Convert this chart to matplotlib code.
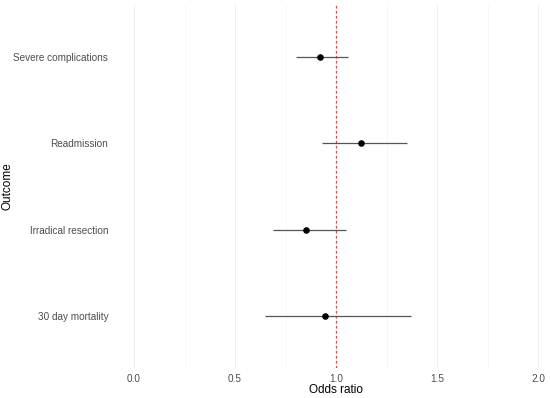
import matplotlib
matplotlib.use("Agg")
import matplotlib.pyplot as plt
from matplotlib.ticker import MultipleLocator

outcomes = ["30 day mortality", "Irradical resection", "Readmission", "Severe complications"]
odds_ratio = [0.944, 0.853, 1.124, 0.92]
ci_low = [0.65, 0.69, 0.93, 0.80]
ci_high = [1.37, 1.05, 1.35, 1.06]
x_ticks = [0.0, 0.5, 1.0, 1.5, 2.0]
x_tick_labels = ["0.0", "0.5", "1.0", "1.5", "2.0"]

plt.rcParams['font.family'] = ['Liberation Sans', 'DejaVu Sans']

fig = plt.figure(figsize=(5.5, 3.98), dpi=100)
ax = fig.add_axes([113.8 / 550, 30 / 398, (558.2 - 113.8) / 550, 363 / 398])

ypos = list(range(1, len(outcomes) + 1))
ax.axvline(1.0, color="#c8504a", linestyle=(0, (2, 2)), linewidth=0.9, zorder=2)
ax.hlines(ypos, ci_low, ci_high, color="#555555", linewidth=0.9, zorder=3)
ax.scatter(odds_ratio, ypos, color="black", s=14, zorder=4)

ax.set_xlim(-0.1, 2.1)
ax.set_ylim(0.4, len(outcomes) + 0.6)
ax.set_xticks(x_ticks)
ax.set_xticklabels(x_tick_labels)
ax.xaxis.set_minor_locator(MultipleLocator(0.25))
ax.set_yticks(ypos)
ax.set_yticklabels(outcomes)

ax.grid(axis="x", which="major", color="#eeeeee", linewidth=0.8, zorder=0)
ax.grid(axis="x", which="minor", color="#f6f6f6", linewidth=0.6, zorder=0)
ax.set_axisbelow(True)
for s in ax.spines.values():
    s.set_visible(False)
ax.tick_params(axis="both", which="both", length=0, labelsize=7.2, labelcolor="#4d4d4d")
ax.tick_params(axis="x", pad=4)
ax.tick_params(axis="y", pad=4)

ax.set_xlabel("Odds ratio", fontsize=8.5, color="black")
ax.set_ylabel("Outcome", fontsize=8.5, color="black")
ax.xaxis.set_label_coords((336 - 113.8) / 444.4, (368 - 390) / 363)
ax.yaxis.set_label_coords((8 - 113.8) / 444.4, 0.5)
ax.xaxis.label.set_va("center")
ax.yaxis.label.set_va("center")

fig.savefig("out.png", dpi=100)
